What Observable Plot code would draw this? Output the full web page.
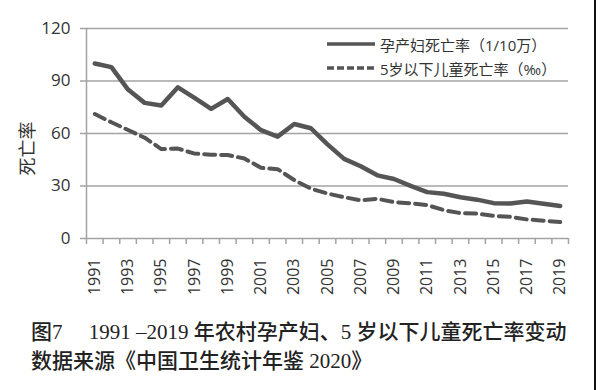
<!DOCTYPE html>
<html><head><meta charset="utf-8">
<script src="https://cdn.jsdelivr.net/npm/d3@7"></script>
<script src="https://cdn.jsdelivr.net/npm/@observablehq/plot@0.6"></script>
<style>
body{margin:0;background:#fff;width:600px;height:390px;overflow:hidden;position:relative;font-family:"Open Sans","Noto Sans CJK SC",sans-serif;}
#chart{position:absolute;left:0;top:0;}
#legend{position:absolute;left:327px;top:32px;font-size:15px;color:#333;font-family:"Open Sans","Noto Sans CJK SC",sans-serif;}
#legend .row{display:flex;align-items:center;height:24px;white-space:nowrap;}
#legend svg{margin-right:5px;}
#caption{position:absolute;left:31px;top:318px;font-size:21px;line-height:29px;color:#222;font-family:"Liberation Serif","Noto Sans CJK SC",serif;font-weight:500;white-space:nowrap;}
#caption .n{font-weight:normal;}
#edge{position:absolute;left:594px;top:0;width:2px;height:390px;background:#111;}
</style></head>
<body>
<div id="chart"></div>
<div id="legend"></div>
<div id="caption"></div>
<div id="edge"></div>
<script>
const years = [1991,1992,1993,1994,1995,1996,1997,1998,1999,2000,2001,2002,2003,2004,2005,2006,2007,2008,2009,2010,2011,2012,2013,2014,2015,2016,2017,2018,2019];
const maternal = [100.0,97.9,85.1,77.5,76.0,86.4,80.4,74.1,79.7,69.6,61.9,58.2,65.4,63.0,53.8,45.5,41.3,36.1,34.0,30.1,26.5,25.6,23.6,22.2,20.2,20.0,21.1,19.9,18.6];
const under5 = [71.1,66.4,62.0,57.6,51.1,51.4,48.5,47.9,47.7,45.7,40.4,39.6,33.4,28.5,25.7,23.6,21.8,22.7,20.8,20.1,19.1,16.2,14.5,14.2,12.9,12.4,10.9,10.2,9.4];
const yTicks = [0,30,60,90,120];
const xLabels = [1991,1993,1995,1997,1999,2001,2003,2005,2007,2009,2011,2013,2015,2017,2019];
const seriesNames = ["孕产妇死亡率（1/10万）","5岁以下儿童死亡率（‰）"];
const yLabel = "死亡率";
const captionLines = ['图<span class="n">7　 1991 –2019 </span>年农村孕产妇、<span class="n">5 </span>岁以下儿童死亡率变动','数据来源《中国卫生统计年鉴<span class="n"> 2020</span>》'];

const matData = years.map((y,i)=>({year:y, v:maternal[i]}));
const u5Data = years.map((y,i)=>({year:y, v:under5[i]}));
const boundaries = years.map(y=>y-0.5).concat([years[years.length-1]+0.5]);

const lineColor = "#555";
const gray = "#a3a3a3";

const chart = Plot.plot({
  width: 600,
  height: 312,
  marginLeft: 86,
  marginRight: 32,
  marginTop: 28,
  marginBottom: 74,
  style: {fontFamily: '"Open Sans","Noto Sans CJK SC",sans-serif', color: "#333", background: "transparent"},
  x: {type: "linear", domain: [boundaries[0], boundaries[boundaries.length-1]]},
  y: {domain: [0, 120]},
  marks: [
    Plot.gridY([30,60,90,120], {stroke: gray, strokeOpacity: 1, strokeWidth: 1.5}),
    Plot.ruleY([0], {stroke: gray, strokeWidth: 1.5}),
    Plot.ruleX([boundaries[0]], {stroke: gray, strokeWidth: 1.5}),
    Plot.axisY(yTicks, {tickSize: 6, tickPadding: 10, fontSize: 17, stroke: gray, strokeWidth: 1.5, label: null}),
    Plot.text([yLabel], {frameAnchor: "left", textAnchor: "middle", dx: -58, dy: 15, rotate: -90, fontSize: 18, fill: "#333"}),
    Plot.axisX(boundaries, {tickSize: 6, tickFormat: () => "", stroke: gray, strokeWidth: 1.5, label: null}),
    Plot.axisX(xLabels, {tickSize: 0, tickRotate: -90, tickPadding: 20, fontSize: 16, tickFormat: d => String(d), label: null}),
    Plot.line(u5Data, {x: "year", y: "v", stroke: lineColor, strokeWidth: 4, strokeDasharray: "11,6"}),
    Plot.line(matData, {x: "year", y: "v", stroke: lineColor, strokeWidth: 4.5, strokeLinejoin: "round"})
  ]
});
document.getElementById("chart").appendChild(chart);

const legend = document.getElementById("legend");
const dashes = [null, "7,3"];
seriesNames.forEach((name, i) => {
  const row = document.createElement("div");
  row.className = "row";
  row.innerHTML = `<svg width="48" height="24"><line x1="0" x2="48" y1="12" y2="12" stroke="${lineColor}" stroke-width="3.5" ${dashes[i] ? `stroke-dasharray="${dashes[i]}"` : ""}/></svg><span>${name}</span>`;
  legend.appendChild(row);
});
document.getElementById("caption").innerHTML = captionLines.map(l => `<div>${l}</div>`).join("");
</script>
</body></html>
